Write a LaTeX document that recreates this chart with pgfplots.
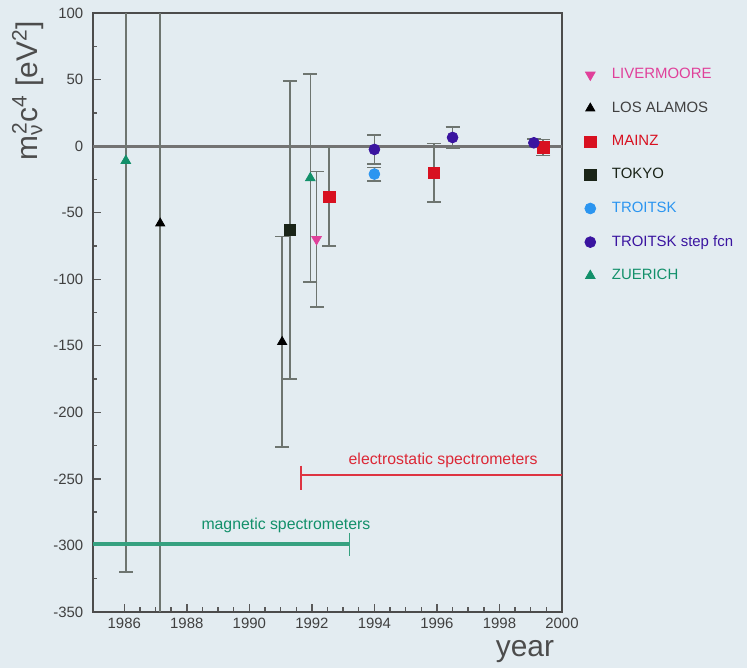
\documentclass[border=0pt]{standalone}
\usepackage{pgfplots}
\pgfplotsset{compat=1.18}
\usepackage{fontspec}
\setmainfont{Liberation Sans}
\definecolor{bgcol}{HTML}{E3ECF1}
\definecolor{cliv}{HTML}{E0409A}
\definecolor{cmainz}{HTML}{D81020}
\definecolor{ctokyo}{HTML}{1A2418}
\definecolor{ctroitsk}{HTML}{2B95F0}
\definecolor{cstep}{HTML}{3A14A0}
\definecolor{czue}{HTML}{12906A}
\definecolor{cerr}{HTML}{6E7570}
\begin{document}
\begin{tikzpicture}[x=1cm,y=1cm]
\path[use as bounding box, fill=bgcol] (-1.86,-1.12) rectangle (13.08,12.24);
\begin{axis}[
  name=ax,
  at={(0,0)}, anchor=south west, scale only axis,
  width=9.38cm, height=11.98cm,
  xmin=1985, xmax=2000, ymin=-350, ymax=100,
  xtick={1986,1988,...,2000}, minor x tick num=3,
  ytick={-350,-300,...,100}, minor y tick num=1,
  tick pos=left, tick align=inside,
  major tick length=0.16cm, minor tick length=0.09cm,
  tick style={black!65, line width=0.8pt},
  axis line style={black!70, line width=1.1pt},
  /pgf/number format/1000 sep={},
  /pgf/number format/assume math mode=true,
  ticklabel style={font=\fontsize{8.5}{10}\selectfont, text=black!75},
  yticklabel style={xshift=-2pt},
  legend style={at={(1.036,0.92)}, anchor=north west, draw=none, fill=none,
    font=\fontsize{8.5}{10}\selectfont, row sep=7.6pt, column sep=7pt, legend cell align=left},
  legend cell align=left,
  error bars/error bar style={cerr, line width=0.9pt},
  error bars/error mark options={rotate=90, mark size=4pt, line width=0.9pt, cerr},
]
\draw[black!55, line width=1.6pt] (axis cs:1985,0) -- (axis cs:2000,0);
% LIVERMOORE
\addplot[only marks, mark=triangle*, mark options={rotate=180, fill=cliv, draw=cliv}, mark size=3.2pt,
  error bars/.cd, y dir=both, y explicit] coordinates {(1992.15,-70) +- (0,51)};
\addlegendentry{\textcolor{cliv}{LIVERMOORE}}
% LOS ALAMOS
\addplot[only marks, mark=triangle*, mark options={fill=black, draw=black}, mark size=3pt,
  error bars/.cd, y dir=both, y explicit] coordinates {(1987.15,-58) +- (0,453) (1991.05,-147) +- (0,79)};
\addlegendentry{\textcolor{black!75}{LOS ALAMOS}}
% MAINZ
\addplot[only marks, mark=square*, mark options={fill=cmainz, draw=cmainz}, mark size=3.3pt,
  error bars/.cd, y dir=both, y explicit] coordinates {(1992.55,-38) +- (0,37) (1995.9,-20) +- (0,22) (1999.4,-1) +- (0,6)};
\addlegendentry{\textcolor{cmainz}{MAINZ}}
% TOKYO
\addplot[only marks, mark=square*, mark options={fill=ctokyo, draw=ctokyo}, mark size=3.3pt,
  error bars/.cd, y dir=both, y explicit] coordinates {(1991.3,-63) +- (0,112)};
\addlegendentry{\textcolor{ctokyo}{TOKYO}}
% TROITSK
\addplot[only marks, mark=*, mark options={fill=ctroitsk, draw=ctroitsk}, mark size=3.1pt,
  error bars/.cd, y dir=both, y explicit] coordinates {(1994.0,-21) +- (0,5)};
\addlegendentry{\textcolor{ctroitsk}{TROITSK}}
% TROITSK step fcn
\addplot[only marks, mark=*, mark options={fill=cstep, draw=cstep}, mark size=3.1pt,
  error bars/.cd, y dir=both, y explicit] coordinates {(1994.0,-2.5) +- (0,11) (1996.5,6.5) +- (0,8) (1999.1,2.5) +- (0,3)};
\addlegendentry{\textcolor{cstep}{TROITSK step fcn}}
% ZUERICH
\addplot[only marks, mark=triangle*, mark options={fill=czue, draw=czue}, mark size=3.2pt,
  error bars/.cd, y dir=both, y explicit] coordinates {(1986.05,-11) +- (0,309) (1991.95,-24) +- (0,78)};
\addlegendentry{\textcolor{czue}{ZUERICH}}
% annotations
\draw[cmainz!85, line width=1.1pt] (axis cs:1991.65,-247) -- (axis cs:2000,-247);
\draw[cmainz!85, line width=1.1pt] (axis cs:1991.65,-240) -- (axis cs:1991.65,-258);
\node[text=cmainz!90, font=\fontsize{9}{10}\selectfont] at (axis cs:1996.2,-236) {electrostatic spectrometers};
\draw[czue!85, line width=2pt] (axis cs:1985,-299) -- (axis cs:1993.2,-299);
\draw[czue!85, line width=1pt] (axis cs:1993.2,-291) -- (axis cs:1993.2,-308);
\node[text=czue, font=\fontsize{9}{10}\selectfont] at (axis cs:1991.17,-285) {magnetic spectrometers};
\end{axis}
\node[font=\fontsize{17}{20}\selectfont, text=black!70] at (8.64,-0.8) {year};
\node[rotate=90, anchor=east, font=\fontsize{17}{20}\selectfont, text=black!70] at (-1.30,11.95)
  {m\textsubscript{ν}\kern-0.35em\textsuperscript{2}c\textsuperscript{4} [eV\textsuperscript{2}]};
\end{tikzpicture}
\end{document}
